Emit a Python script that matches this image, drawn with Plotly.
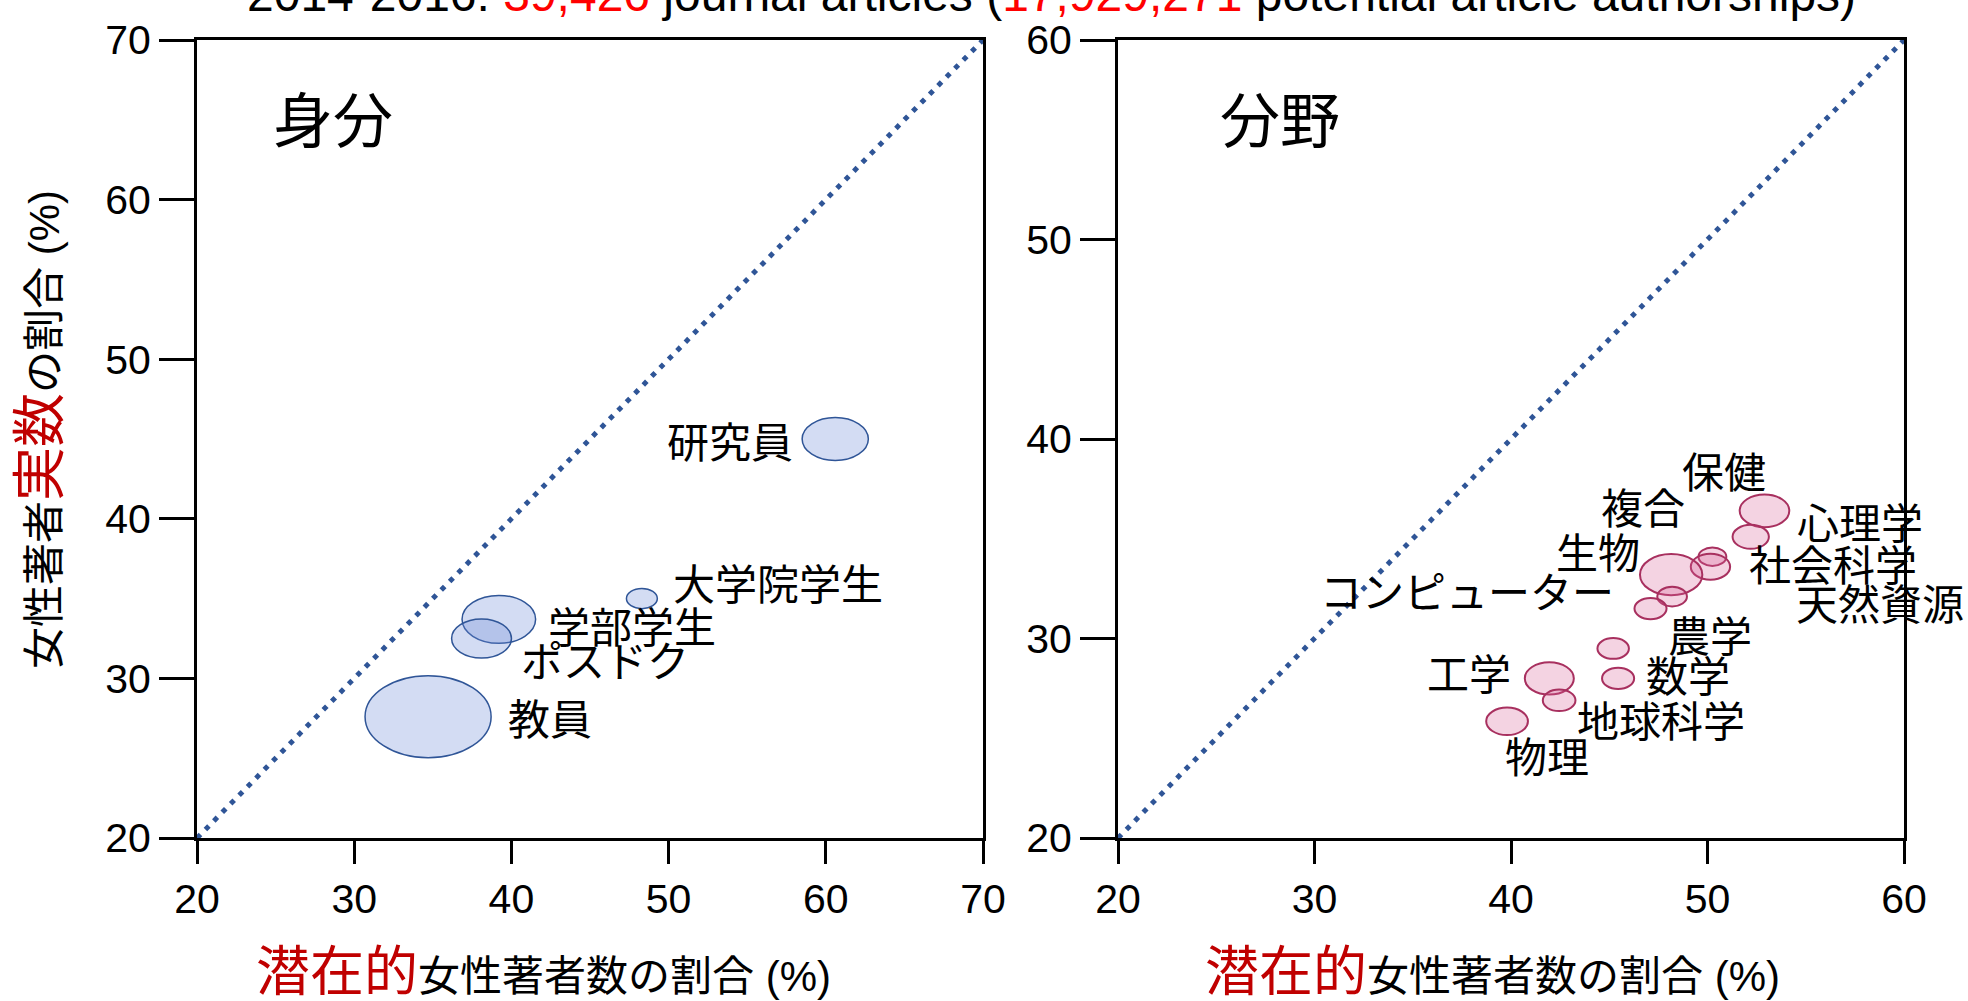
import plotly.graph_objects as go

# ---------------------------------------------------------------- data
# 身分 (career stage)
role_names = ["研究員", "大学院学生", "学部学生", "ポスドク", "教員"]
role_potential = [60.6, 48.3, 39.2, 38.1, 34.7]   # 潜在的女性著者数の割合 (%)
role_actual = [45.0, 35.0, 33.7, 32.5, 27.6]      # 女性著者実数の割合 (%)
role_size = [1.35, 0.63, 1.50, 1.22, 2.57]        # bubble half-height (% points)

# 分野 (research field)
field_names = ["保健", "心理学", "社会科学", "天然資源", "生物", "複合",
               "コンピューター", "農学", "数学", "工学", "地球科学", "物理"]
field_potential = [52.9, 52.2, 50.25, 50.15, 48.15, 48.2,
                   47.1, 45.2, 45.45, 41.95, 42.45, 39.8]
field_actual = [36.4, 35.1, 34.1, 33.6, 33.2, 32.1,
                31.5, 29.5, 28.0, 28.0, 26.9, 25.85]
field_size = [0.82, 0.60, 0.46, 0.65, 1.03, 0.49,
              0.53, 0.52, 0.53, 0.81, 0.54, 0.69]

left_ticks = [20, 30, 40, 50, 60, 70]
right_ticks = [20, 30, 40, 50, 60]

n_articles = "39,426"
n_authorships = "17,929,271"

# ---------------------------------------------------------------- layout helpers
W, H = 1968, 1001
M = dict(l=197, r=64, t=40, b=163)
PW = W - M["l"] - M["r"]
PH = H - M["t"] - M["b"]


def paper_x(px):
    return (px - M["l"]) / PW


def paper_y(py):
    return (H - M["b"] - py) / PH


LATIN = "Liberation Sans, Arial, Noto Sans CJK JP, sans-serif"
CJK = "Noto Sans CJK JP, Liberation Sans, sans-serif"
RED = "#C00000"
DIAG = "#2F5597"

# label offsets from bubble centre, in pixels (x right, y up)
role_label_shift = {
    "研究員": (-105, 0), "大学院学生": (136, 17), "学部学生": (133, -5),
    "ポスドク": (123, -20), "教員": (122, 0),
}
field_label_shift = {
    "保健": (-40, 41), "心理学": (109, 16), "社会科学": (121, -6),
    "天然資源": (170, -35), "生物": (-73, 24), "複合": (-29, 91),
    "コンピューター": (-184, 19), "農学": (97, 15), "数学": (70, 5),
    "工学": (-80, 7), "地球科学": (102, -18), "物理": (40, -33),
}

fig = go.Figure()

# identity lines (actual share == potential share)
fig.add_trace(go.Scatter(x=[left_ticks[0], left_ticks[-1]], y=[left_ticks[0], left_ticks[-1]],
                         mode="lines", xaxis="x", yaxis="y", hoverinfo="skip",
                         line=dict(color=DIAG, width=5, dash="5px,7px")))
fig.add_trace(go.Scatter(x=[right_ticks[0], right_ticks[-1]], y=[right_ticks[0], right_ticks[-1]],
                         mode="lines", xaxis="x2", yaxis="y2", hoverinfo="skip",
                         line=dict(color=DIAG, width=5, dash="5px,7px")))

# hover points at bubble centres
fig.add_trace(go.Scatter(x=role_potential, y=role_actual, text=role_names, mode="markers",
                         xaxis="x", yaxis="y", hoverinfo="text+x+y",
                         marker=dict(size=1, opacity=0)))
fig.add_trace(go.Scatter(x=field_potential, y=field_actual, text=field_names, mode="markers",
                         xaxis="x2", yaxis="y2", hoverinfo="text+x+y",
                         marker=dict(size=1, opacity=0)))


def add_bubbles(xs, ys, sizes, names, stretch, xref, yref, fill, edge, ew, shifts):
    for x, y, s, name in zip(xs, ys, sizes, names):
        fig.add_shape(type="circle", xref=xref, yref=yref,
                      x0=x - s * stretch, x1=x + s * stretch, y0=y - s, y1=y + s,
                      fillcolor=fill, line=dict(color=edge, width=ew), layer="above")
        dx, dy = shifts[name]
        fig.add_annotation(x=x, y=y, xref=xref, yref=yref, text=name, showarrow=False,
                           xshift=dx, yshift=dy, xanchor="center", yanchor="middle",
                           font=dict(family=CJK, size=42, color="black"))


add_bubbles(role_potential, role_actual, role_size, role_names, 1.56, "x", "y",
            "rgba(110,140,215,0.30)", "#2F5597", 1.5, role_label_shift)
add_bubbles(field_potential, field_actual, field_size, field_names, 1.54, "x2", "y2",
            "rgba(214,96,152,0.28)", "#A8305F", 2, field_label_shift)

axis_common = dict(showline=True, linewidth=3, linecolor="black", mirror=True,
                   ticks="outside", tickwidth=3, tickcolor="black",
                   showgrid=False, zeroline=False, fixedrange=True,
                   tickfont=dict(family=LATIN, size=41, color="black"))

split_l = paper_x(983)
split_r = paper_x(1118)

fig.update_layout(
    width=W, height=H, margin=dict(l=M["l"], r=M["r"], t=M["t"], b=M["b"], pad=0),
    paper_bgcolor="white", plot_bgcolor="white", showlegend=False,
    xaxis=dict(domain=[0, split_l], range=[20, 70], tickvals=left_ticks,
               ticklen=23, anchor="y", **axis_common),
    yaxis=dict(domain=[0, 1], range=[20, 70], tickvals=left_ticks,
               ticklen=35, anchor="x", **axis_common),
    xaxis2=dict(domain=[split_r, 1], range=[20, 60], tickvals=right_ticks,
                ticklen=23, anchor="y2", **axis_common),
    yaxis2=dict(domain=[0, 1], range=[20, 60], tickvals=right_ticks,
                ticklen=35, anchor="x2", **axis_common),
)

# panel headings
for heading, cx in (("身分", 333), ("分野", 1280)):
    fig.add_annotation(x=paper_x(cx), y=paper_y(117), xref="paper", yref="paper",
                       text=heading, showarrow=False, xanchor="center", yanchor="middle",
                       font=dict(family=CJK, size=60, color="black"))

# axis titles
x_title = f'<span style="color:{RED};font-size:54px">潜在的</span>女性著者数の割合 (%)'
for cx in (543, 1492):
    fig.add_annotation(x=paper_x(cx), y=paper_y(972), xref="paper", yref="paper",
                       text=x_title, showarrow=False, xanchor="center", yanchor="middle",
                       font=dict(family=LATIN, size=42, color="black"))

y_title = f'女性著者<span style="color:{RED};font-size:54px">実数</span>の割合 (%)'
fig.add_annotation(x=paper_x(40), y=paper_y(430), xref="paper", yref="paper",
                   text=y_title, showarrow=False, textangle=-90,
                   xanchor="center", yanchor="middle",
                   font=dict(family=LATIN, size=42, color="black"))

# headline (runs off the top edge)
headline = (f'2014-2016: <span style="color:#FF0000">{n_articles}</span> journal articles '
            f'(<span style="color:#FF0000">{n_authorships}</span> potential article authorships)')
fig.add_annotation(x=paper_x(1051), y=paper_y(23), xref="paper", yref="paper",
                   text=headline, showarrow=False, xanchor="center", yanchor="bottom",
                   font=dict(family=LATIN, size=48, color="black"))

fig.write_html("out.html")
